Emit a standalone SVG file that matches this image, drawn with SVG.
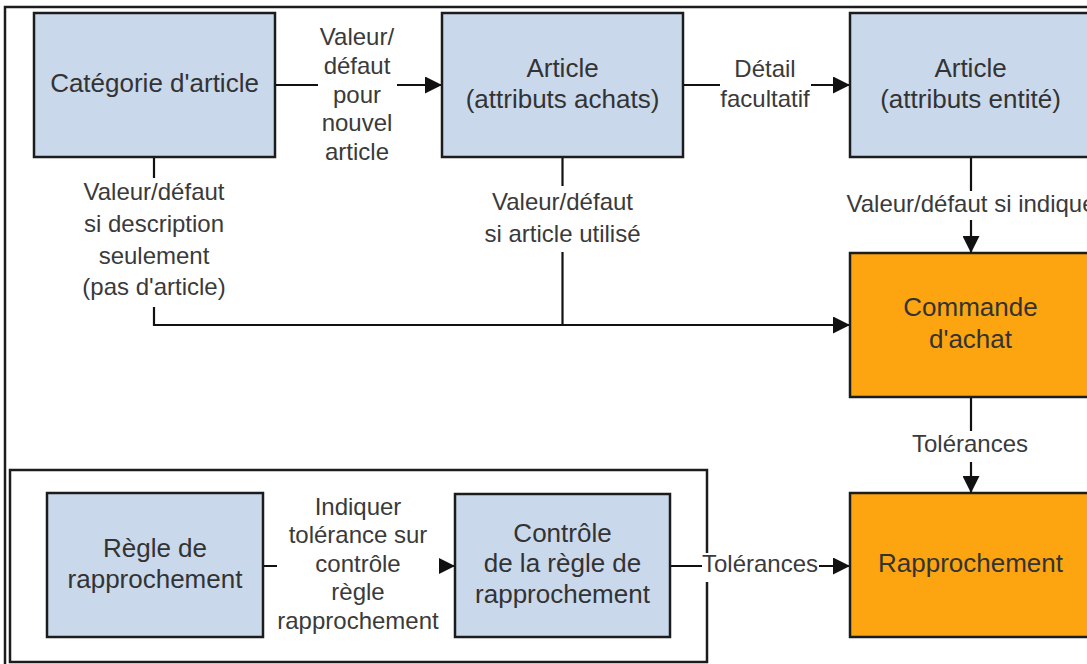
<svg xmlns="http://www.w3.org/2000/svg" width="1087" height="664" viewBox="0 0 1087 664">
  <style>
    .box { stroke: #1c1c1c; stroke-width: 2.5; }
    .blue { fill: #cad8eb; }
    .orange { fill: #fda411; }
    .shadow { fill: #b8b8b8; }
    .frame { fill: none; stroke: #1c1c1c; stroke-width: 2.5; }
    .conn { fill: none; stroke: #111; stroke-width: 2.2; }
    .bg { fill: #ffffff; }
    .nt { font-family: "Liberation Sans", Arial, sans-serif; font-size: 26px; fill: #333; text-anchor: middle; }
    .lt { font-family: "Liberation Sans", Arial, sans-serif; font-size: 24px; fill: #3a3a3a; text-anchor: middle; }
  </style>
  <defs>
    <marker id="arrow" markerUnits="userSpaceOnUse" markerWidth="17" markerHeight="17" refX="17" refY="8.5" orient="auto">
      <path d="M0,0 L17,8.5 L0,17 z" fill="#111"/>
    </marker>
  </defs>

  <rect width="1087" height="664" fill="#ffffff"/>

  <!-- outer border and the lower-left enclosure -->
  <path class="frame" d="M5,664 V7 H1087"/>
  <rect class="frame" x="10" y="470" width="697" height="192"/>

  <!-- connectors -->
  <g id="connectors">
    <path class="conn" d="M275,85 H442" marker-end="url(#arrow)"/>
    <path class="conn" d="M683,85 H850" marker-end="url(#arrow)"/>
    <path class="conn" d="M154,157 V325 H850" marker-end="url(#arrow)"/>
    <path class="conn" d="M562.5,157 V325"/>
    <path class="conn" d="M971,157 V253" marker-end="url(#arrow)"/>
    <path class="conn" d="M971,397 V493" marker-end="url(#arrow)"/>
    <path class="conn" d="M263,566 H455" marker-end="url(#arrow)"/>
    <path class="conn" d="M670,566 H850" marker-end="url(#arrow)"/>

    <!-- label backgrounds -->
    <rect class="bg" x="318" y="22" width="79" height="144"/>
    <rect class="bg" x="720" y="56" width="91" height="56"/>
    <rect class="bg" x="66" y="178" width="176" height="129"/>
    <rect class="bg" x="478" y="186" width="170" height="66"/>
    <rect class="bg" x="843" y="191" width="244" height="29"/>
    <rect class="bg" x="905" y="431" width="132" height="31"/>
    <rect class="bg" x="277" y="495" width="162" height="140"/>
    <rect class="bg" x="702" y="553" width="117" height="29"/>

    <!-- labels -->
    <text class="lt" x="357" y="45">Valeur/</text>
    <text class="lt" x="357" y="74">défaut</text>
    <text class="lt" x="357" y="103">pour</text>
    <text class="lt" x="357" y="131">nouvel</text>
    <text class="lt" x="357" y="160">article</text>

    <text class="lt" x="765" y="77">Détail</text>
    <text class="lt" x="765" y="107">facultatif</text>

    <text class="lt" x="154" y="200">Valeur/défaut</text>
    <text class="lt" x="154" y="232">si description</text>
    <text class="lt" x="154" y="264">seulement</text>
    <text class="lt" x="154" y="295">(pas d'article)</text>

    <text class="lt" x="562.5" y="210">Valeur/défaut</text>
    <text class="lt" x="562.5" y="242">si article utilisé</text>

    <text class="lt" x="971" y="212">Valeur/défaut si indiqué</text>

    <text class="lt" x="970" y="452">Tolérances</text>

    <text class="lt" x="358" y="515">Indiquer</text>
    <text class="lt" x="358" y="543">tolérance sur</text>
    <text class="lt" x="358" y="572">contrôle</text>
    <text class="lt" x="358" y="600">règle</text>
    <text class="lt" x="358" y="629">rapprochement</text>

    <text class="lt" x="760" y="572">Tolérances</text>
  </g>

  <!-- nodes -->
  <g id="categorie-article">
    <rect class="box blue" x="34" y="13" width="241" height="144"/>
    <text class="nt" x="154.5" y="92">Catégorie d'article</text>
  </g>
  <g id="article-achats">
    <rect class="box blue" x="442" y="13" width="241" height="144"/>
    <text class="nt" x="562.5" y="77">Article</text>
    <text class="nt" x="562.5" y="108">(attributs achats)</text>
  </g>
  <g id="article-entite">
    <rect class="box blue" x="850" y="13" width="241" height="144"/>
    <text class="nt" x="970.5" y="77">Article</text>
    <text class="nt" x="970.5" y="108">(attributs entité)</text>
  </g>
  <g id="commande-achat">
    <rect class="box orange" x="850" y="253" width="241" height="144"/>
    <text class="nt" x="970.5" y="316">Commande</text>
    <text class="nt" x="970.5" y="348">d'achat</text>
  </g>
  <g id="rapprochement">
    <rect class="box orange" x="850" y="493" width="241" height="144"/>
    <text class="nt" x="970.5" y="572">Rapprochement</text>
  </g>
  <g id="regle-rapprochement">
    <rect class="box blue" x="47" y="493" width="216" height="144"/>
    <text class="nt" x="155" y="557">Règle de</text>
    <text class="nt" x="155" y="588">rapprochement</text>
  </g>
  <g id="controle-regle">
    <rect class="box blue" x="455" y="494" width="215" height="143"/>
    <text class="nt" x="562.5" y="542">Contrôle</text>
    <text class="nt" x="562.5" y="572">de la règle de</text>
    <text class="nt" x="562.5" y="603">rapprochement</text>
  </g>
</svg>
